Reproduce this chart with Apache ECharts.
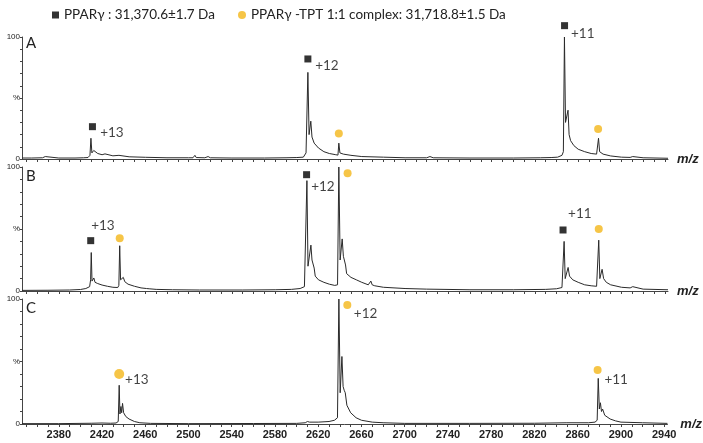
<!DOCTYPE html>
<html><head><meta charset="utf-8">
<script src="https://cdn.jsdelivr.net/npm/echarts@6/dist/echarts.min.js"></script>
<style>html,body{margin:0;padding:0;background:#fff}#c{width:703px;height:443px}</style>
</head><body><div id="c"></div>
<script>
// ---- data ----
const xLabelValues = [2380,2420,2460,2500,2540,2580,2620,2660,2700,2740,2780,2820,2860,2900,2940];
const nameApo = 'PPARγ : 31,370.6±1.7 Da';
const nameCpx = 'PPARγ -TPT 1:1 complex: 31,718.8±1.5 Da';
const panelLetters = ['A','B','C'];

const specA = [[2346,0.8],[2355,0.8],[2365,1],[2367.5,2],[2369,1],[2380,0.8],[2395,0.8],[2403,1],[2407,1.2],[2408.8,3],[2409.7,17],[2410.6,5],[2412.3,7],[2413.5,5.5],[2416,4.5],[2420,3.5],[2422.7,4.2],[2424,3],[2430,2.6],[2435.6,3],[2437,2.2],[2445,1.8],[2460,1.4],[2480,1],[2500,1],[2504,1],[2505.8,3],[2507,1.2],[2515,1],[2518,2],[2520,1],[2540,0.8],[2570,0.8],[2590,1],[2600,1.2],[2606,1.5],[2608.5,5],[2610.2,71],[2611.3,20],[2612.9,31],[2614,18],[2616,13],[2620,9],[2625,6],[2630,4.5],[2636,3.5],[2638,3.2],[2638.8,13],[2639.8,5],[2641,6],[2643,4],[2650,3],[2660,2],[2680,1.5],[2700,1],[2720,1],[2723,2],[2726,1],[2760,0.8],[2800,0.8],[2825,1],[2835,1.2],[2841,1.5],[2845,3],[2846.3,6],[2847.3,100],[2848.3,30],[2850.6,40],[2851.6,20],[2853,15],[2856,11],[2860,8],[2866,6],[2872,4.5],[2877,4],[2878,5],[2878.8,17],[2879.8,6],[2881,6],[2883,4],[2890,2.5],[2900,1.5],[2908,1.3],[2910.4,2],[2912,1.2],[2920,1],[2943,0.6]];

const specB = [[2346,0.5],[2370,0.6],[2390,0.8],[2400,1.2],[2405,2],[2408.5,3.5],[2409.4,9],[2410,31],[2410.7,8],[2412.4,10.5],[2413.5,7],[2416,6],[2420,4.8],[2425,3.8],[2430,3],[2434.5,2.8],[2435.5,4.5],[2436.3,36.5],[2437.1,9],[2439.6,11],[2441,7.5],[2444,5.5],[2450,3.8],[2456,2.5],[2461,2],[2462.4,3],[2463.5,1.8],[2470,1.3],[2485,1],[2510,0.8],[2550,0.8],[2580,1],[2595,1.3],[2603,2],[2607,3.5],[2608.4,5],[2609.3,89],[2610.3,20],[2613,37],[2614,25],[2616,18.5],[2617,12],[2620,9],[2625,7],[2630,5.5],[2635,4.5],[2637.6,5],[2638.8,100],[2640,25],[2641.9,42],[2643,28],[2645,21],[2646,14],[2650,11],[2655,9],[2660,7],[2666,5],[2668.4,8],[2669.6,5],[2672,4.2],[2680,3],[2700,2],[2720,1.5],[2760,1],[2800,1],[2830,1.3],[2840,1.8],[2845,2.8],[2846.2,4],[2847,40],[2848,10],[2850.7,19],[2852,12],[2855,9],[2860,7],[2866,5],[2872,4.2],[2877,3.8],[2878.2,5],[2879,41],[2880,10],[2882.1,17.5],[2883.5,10],[2886,7],[2890,5],[2900,3],[2908,2.5],[2910.4,3.5],[2912,2],[2920,1.5],[2943,1]];

const specC = [[2346,0.3],[2380,0.3],[2410,0.6],[2420,0.8],[2428,0.6],[2433,0.8],[2435,2],[2435.9,31],[2436.6,8],[2437.5,14],[2438.2,9],[2439,16.5],[2440,9],[2442,6],[2445,4],[2450,2],[2455,1],[2465,0.5],[2500,0.3],[2560,0.4],[2600,0.5],[2608,1],[2610,2],[2612,1.5],[2620,1.5],[2630,2],[2635,3],[2637.8,5],[2639.1,100],[2640.3,25],[2641.9,54],[2643,30],[2644,27],[2645,25],[2646.5,15],[2650,9],[2655,5],[2660,3],[2670,1.5],[2680,1],[2700,0.5],[2760,0.5],[2820,0.6],[2850,1],[2870,1],[2876,1.5],[2878,3],[2879,36.5],[2880,12],[2881,17],[2882,10],[2883,12],[2885,7],[2890,4],[2895,2.5],[2900,1.5],[2920,1],[2943,0.5]];

const squaresA = [[2411.1,26.5],[2610.2,82],[2847.4,109.3]];
const squaresB = [[2409.5,40.6],[2609.0,93.8],[2846.0,49.2]];
const squaresC = [];
const circlesA = [[2638.8,21,8],[2878.4,24.6,8]];
const circlesB = [[2436.3,42.5,8],[2646.9,95,8],[2879.0,50,8]];
const circlesC = [[2435.9,40,10],[2646.9,95.2,8],[2878.4,43.2,8]];

const chargeA = [[2429.1,21.3,'+13'],[2627.8,76.8,'+12'],[2864.2,102.5,'+11']];
const chargeB = [[2420.8,52.4,'+13'],[2624.1,83.9,'+12'],[2861.5,62.7,'+11']];
const chargeC = [[2452.2,35.2,'+13'],[2663.8,88,'+12'],[2895.6,35.2,'+11']];

// ---- layout / styles ----
const GOLD = '#F4B619';
const FONT = 'Lato';
const xMin = 2346, xMax = 2943;
const tickValues = [];
for (let v = 2350; v <= 2940; v += 10) tickValues.push(v);
const grids = [
  {left: 22, right: 35, top: 37, height: 122},
  {left: 22, right: 35, top: 167, height: 124},
  {left: 22, right: 35, top: 299, height: 125}
];
const specs = [specA, specB, specC];
const squares = [squaresA, squaresB, squaresC];
const circles = [circlesA, circlesB, circlesC];
const charges = [chargeA, chargeB, chargeC];
const letterTops = [36, 169, 301];

const xAxes = grids.map((g, i) => ({
  type: 'value', gridIndex: i, min: xMin, max: xMax,
  axisLine: {show: true, onZero: false, lineStyle: {color: '#444', width: 1}},
  axisTick: {show: true, customValues: tickValues, length: 3, lineStyle: {color: '#444'}},
  axisLabel: {show: i === 2, customValues: xLabelValues, formatter: v => String(v),
    fontFamily: 'Liberation Sans', fontWeight: 'bold', fontSize: 11, color: '#222', margin: 5},
  splitLine: {show: false},
  name: 'm/z', nameLocation: 'end', nameGap: 9,
  nameTextStyle: {fontFamily: 'Liberation Sans', fontStyle: 'italic', fontWeight: 'bold', fontSize: 13, color: '#222'}
}));
const yAxes = grids.map((g, i) => ({
  type: 'value', gridIndex: i, min: 0, max: 100, interval: 10,
  axisLine: {show: true, lineStyle: {color: '#444', width: 1}},
  axisTick: {show: true, length: 2, lineStyle: {color: '#444'}},
  axisLabel: {fontFamily: 'Liberation Sans', fontSize: 8, color: '#222', margin: 2,
    formatter: v => v === 100 ? '100' : (v === 50 ? '%' : (v === 0 ? '0' : ''))},
  splitLine: {show: false}
}));

const series = [];
for (let i = 0; i < 3; i++) {
  series.push({type: 'line', xAxisIndex: i, yAxisIndex: i, data: specs[i], showSymbol: false,
    lineStyle: {color: '#2a2a2a', width: 1}, silent: true, animation: false});
  series.push({type: 'scatter', name: nameApo, xAxisIndex: i, yAxisIndex: i, data: squares[i], symbol: 'rect',
    symbolSize: 7, itemStyle: {color: '#000'}, clip: false, animation: false});
  series.push({type: 'scatter', name: nameCpx, xAxisIndex: i, yAxisIndex: i, data: circles[i], symbol: 'circle',
    symbolSize: d => d[2], itemStyle: {color: GOLD}, clip: false, animation: false});
  series.push({type: 'scatter', xAxisIndex: i, yAxisIndex: i, data: charges[i], symbolSize: 1,
    itemStyle: {color: 'rgba(0,0,0,0)'}, clip: false, animation: false, silent: true,
    label: {show: true, position: 'inside', formatter: p => p.data[2], fontFamily: FONT, fontSize: 13.5, color: '#111'}});
}

const chart = echarts.init(document.getElementById('c'), null, {renderer: 'canvas'});
chart.setOption({
  backgroundColor: '#fff',
  animation: false,
  legend: [
    {data: [{name: nameApo, icon: 'rect'}], left: 47, top: 3, itemWidth: 7, itemHeight: 7, selectedMode: false,
      textStyle: {fontFamily: FONT, fontSize: 13.5, color: '#222'}},
    {data: [{name: nameCpx, icon: 'circle'}], left: 233, top: 3, itemWidth: 8, itemHeight: 8, selectedMode: false,
      textStyle: {fontFamily: FONT, fontSize: 13.5, color: '#222'}}
  ],
  grid: grids,
  xAxis: xAxes,
  yAxis: yAxes,
  series: series,
  graphic: panelLetters.map((t, i) => ({type: 'text', left: 26, top: letterTops[i],
    style: {text: t, font: '15px ' + FONT, fill: '#222'}}))
});
</script>
</body></html>
